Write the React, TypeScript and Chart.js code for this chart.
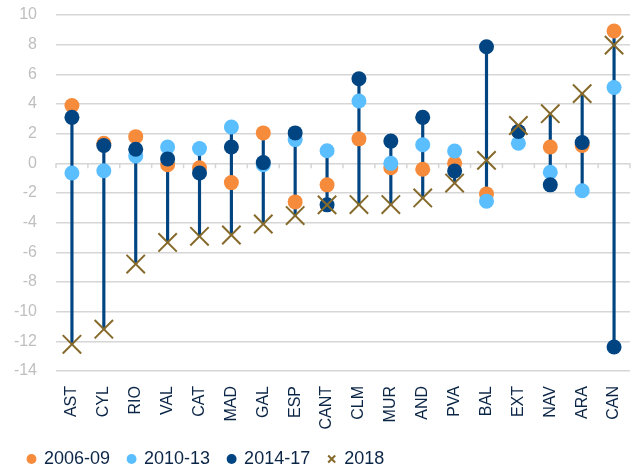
import React, { useEffect, useRef } from "react";
import { Chart, registerables } from "chart.js";

Chart.register(...registerables);

const categories = ["AST", "CYL", "RIO", "VAL", "CAT", "MAD", "GAL", "ESP", "CANT", "CLM", "MUR", "AND", "PVA", "BAL", "EXT", "NAV", "ARA", "CAN"];
const series2006 = [3.9, 1.35, 1.8, -0.1, -0.3, -1.3, 2.05, -2.6, -1.45, 1.65, -0.3, -0.4, 0.0, -2.06, 2.15, 1.1, 1.2, 8.92];
const series2010 = [-0.65, -0.5, 0.5, 1.1, 1.0, 2.45, -0.1, 1.6, 0.85, 4.2, 0.0, 1.25, 0.83, -2.55, 1.35, -0.6, -1.85, 5.11];
const series2014 = [3.1, 1.2, 0.95, 0.3, -0.65, 1.1, 0.05, 2.05, -2.8, 5.7, 1.5, 3.1, -0.52, 7.86, 2.15, -1.45, 1.4, -12.38];
const series2018 = [-12.2, -11.18, -6.79, -5.33, -4.92, -4.83, -4.09, -3.52, -2.8, -2.78, -2.78, -2.33, -1.33, 0.2, 2.55, 3.35, 4.7, 7.97];
const seriesNames = ["2006-09", "2010-13", "2014-17", "2018"];
const yMin = -14;
const yMax = 10;
const yStep = 2;

const FONT = "'Liberation Sans', Arial, sans-serif";
const ORANGE = "#F78B3C";
const LIGHT = "#5BBEFF";
const DARK = "#004481";
const GOLD = "#866A2B";
const NAVY_TEXT = "#0B2546";

const zeroTicks = {
  id: "zeroTicks",
  beforeDatasetsDraw(chart: any) {
    const x = chart.scales.x;
    const y = chart.scales.y;
    const ctx = chart.ctx;
    const y0 = y.getPixelForValue(0);
    const n = x.ticks.length;
    ctx.save();
    ctx.strokeStyle = "#D6D6D6";
    ctx.lineWidth = 1.5;
    ctx.beginPath();
    for (let i = 0; i <= n; i++) {
      let px: number;
      if (i === 0) px = x.left;
      else if (i === n) px = x.right;
      else px = (x.getPixelForTick(i - 1) + x.getPixelForTick(i)) / 2;
      ctx.moveTo(px, y0);
      ctx.lineTo(px, y0 + 5);
    }
    ctx.stroke();
    ctx.restore();
  },
};

export default function App() {
  const ref = useRef<HTMLCanvasElement | null>(null);
  useEffect(() => {
    if (!ref.current) return;
    const all = [series2006, series2010, series2014, series2018];
    const ranges = categories.map((_, i) => {
      const vals = all.map((s) => s[i]);
      return [Math.min(...vals), Math.max(...vals)];
    });
    const pointDs = (label: string, data: number[], color: string, order: number) => ({
      type: "line" as const,
      label,
      data,
      showLine: false,
      pointStyle: "circle",
      pointRadius: 7.5,
      pointHoverRadius: 7.5,
      pointBackgroundColor: color,
      pointBorderColor: color,
      pointBorderWidth: 0,
      backgroundColor: color,
      borderColor: color,
      borderWidth: 0,
      order,
    });
    const chart = new Chart(ref.current, {
      type: "bar",
      data: {
        labels: categories,
        datasets: [
          {
            type: "bar",
            label: "range",
            data: ranges as any,
            backgroundColor: DARK,
            borderWidth: 0,
            barThickness: 2.5,
            order: 10,
          } as any,
          pointDs(seriesNames[0], series2006, ORANGE, 4),
          pointDs(seriesNames[1], series2010, LIGHT, 3),
          pointDs(seriesNames[2], series2014, DARK, 2),
          {
            type: "line",
            label: seriesNames[3],
            data: series2018,
            showLine: false,
            pointStyle: "crossRot",
            pointRadius: 13,
            pointHoverRadius: 13,
            pointBorderColor: GOLD,
            pointBorderWidth: 2,
            borderColor: GOLD,
            backgroundColor: GOLD,
            borderWidth: 2,
            order: 1,
          } as any,
        ],
      },
      options: {
        animation: false,
        responsive: true,
        maintainAspectRatio: false,
        layout: { autoPadding: false, padding: { left: 10, right: 5, top: 15, bottom: -10 } },
        plugins: {
          tooltip: { enabled: false },
          legend: {
            position: "bottom",
            align: "start",
            labels: {
              filter: (item: any) => item.text !== "range",
              sort: (a: any, b: any) => a.datasetIndex - b.datasetIndex,
              usePointStyle: true,
              boxWidth: 7,
              boxHeight: 7,
              padding: 18,
              color: NAVY_TEXT,
              font: { family: FONT, size: 18 },
            },
          },
        },
        scales: {
          x: {
            grid: { display: false, drawTicks: false },
            border: { display: false },
            ticks: {
              color: NAVY_TEXT,
              font: { family: FONT, size: 16 },
              minRotation: 90,
              maxRotation: 90,
              padding: 15,
              autoSkip: false,
            },
            afterFit: (s: any) => {
              s.paddingLeft = 0;
              s.paddingRight = 0;
              s.height = 61;
            },
          } as any,
          y: {
            min: yMin,
            max: yMax,
            grid: { color: "#D6D6D6", lineWidth: 1.5, drawTicks: false },
            border: { display: false },
            ticks: {
              stepSize: yStep,
              color: "#BFBFBF",
              font: { family: FONT, size: 16 },
              padding: 19,
            },
            afterFit: (s: any) => {
              s.paddingTop = 0;
              s.paddingBottom = 0;
              s.width = 46;
            },
          } as any,
        },
      },
      plugins: [zeroTicks],
    });
    return () => chart.destroy();
  }, []);
  return (
    <div style={{ position: "fixed", left: 0, top: 0, width: 635, height: 468, background: "#fff" }}>
      <canvas ref={ref} />
    </div>
  );
}
